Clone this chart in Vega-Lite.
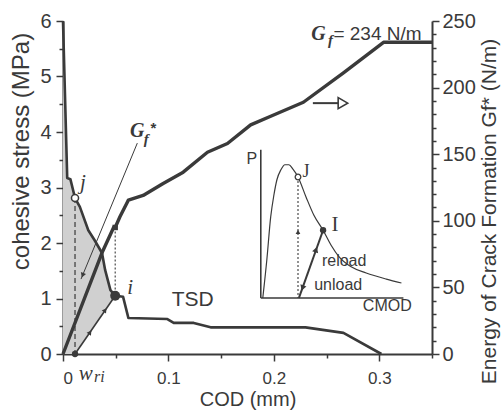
{
  "$schema": "https://vega.github.io/schema/vega-lite/v6.json",
  "width": 369,
  "height": 333,
  "autosize": {"type": "none"},
  "padding": {"left": 63, "top": 21, "right": 69, "bottom": 60},
  "background": "white",
  "config": {
    "view": {"stroke": null},
    "axis": {
      "domainColor": "#3a3a3a", "domainWidth": 2,
      "tickColor": "#3a3a3a", "tickWidth": 1.5,
      "labelColor": "#3a3a3a", "labelFont": "Liberation Sans", "labelFontSize": 18,
      "titleColor": "#3a3a3a", "titleFont": "Liberation Sans", "titleFontSize": 20, "titleFontWeight": "normal",
      "grid": false
    }
  },
  "datasets": {
    "tsd": [
      {"cod": 0, "s": 6.0}, {"cod": 0.004, "s": 3.17}, {"cod": 0.007, "s": 3.15},
      {"cod": 0.0114, "s": 2.81}, {"cod": 0.016, "s": 2.65}, {"cod": 0.024, "s": 2.23},
      {"cod": 0.030, "s": 2.05}, {"cod": 0.037, "s": 1.82}, {"cod": 0.040, "s": 1.51},
      {"cod": 0.045, "s": 1.15}, {"cod": 0.0495, "s": 1.05}, {"cod": 0.057, "s": 1.03},
      {"cod": 0.062, "s": 0.65}, {"cod": 0.099, "s": 0.63}, {"cod": 0.105, "s": 0.56},
      {"cod": 0.124, "s": 0.56}, {"cod": 0.140, "s": 0.48}, {"cod": 0.230, "s": 0.48},
      {"cod": 0.266, "s": 0.38}, {"cod": 0.302, "s": 0}
    ],
    "shade": [
      {"cod": 0, "s": 6.0, "bot": 0}, {"cod": 0.004, "s": 3.17, "bot": 0},
      {"cod": 0.007, "s": 3.15, "bot": 0}, {"cod": 0.0114, "s": 2.81, "bot": 0},
      {"cod": 0.016, "s": 2.65, "bot": 0.13}, {"cod": 0.024, "s": 2.23, "bot": 0.35},
      {"cod": 0.030, "s": 2.05, "bot": 0.51}, {"cod": 0.037, "s": 1.82, "bot": 0.70},
      {"cod": 0.040, "s": 1.51, "bot": 0.79}, {"cod": 0.045, "s": 1.15, "bot": 0.93},
      {"cod": 0.0495, "s": 1.05, "bot": 1.05}
    ],
    "gf": [
      {"cod": 0, "g": 0}, {"cod": 0.037, "g": 76}, {"cod": 0.048, "g": 95},
      {"cod": 0.0495, "g": 95}, {"cod": 0.054, "g": 103}, {"cod": 0.061, "g": 114},
      {"cod": 0.062, "g": 115.5}, {"cod": 0.076, "g": 119}, {"cod": 0.095, "g": 128},
      {"cod": 0.114, "g": 136.5}, {"cod": 0.137, "g": 151.5}, {"cod": 0.156, "g": 158},
      {"cod": 0.178, "g": 172}, {"cod": 0.197, "g": 178.5}, {"cod": 0.228, "g": 189},
      {"cod": 0.266, "g": 211}, {"cod": 0.304, "g": 234}, {"cod": 0.35, "g": 234}
    ],
    "inset": [
      {"cod": 0.1895, "s": 1.01}, {"cod": 0.1933, "s": 1.69}, {"cod": 0.197, "s": 2.47},
      {"cod": 0.200, "s": 2.86}, {"cod": 0.2029, "s": 3.14}, {"cod": 0.2067, "s": 3.32},
      {"cod": 0.2105, "s": 3.41}, {"cod": 0.2143, "s": 3.41}, {"cod": 0.2181, "s": 3.33},
      {"cod": 0.2229, "s": 3.19}, {"cod": 0.2305, "s": 2.83}, {"cod": 0.238, "s": 2.50},
      {"cod": 0.2467, "s": 2.23}, {"cod": 0.2543, "s": 1.96}, {"cod": 0.2619, "s": 1.75},
      {"cod": 0.2733, "s": 1.57}, {"cod": 0.2876, "s": 1.46}, {"cod": 0.3067, "s": 1.35},
      {"cod": 0.321, "s": 1.28}
    ],
    "segs": [
      {"id": "dash_j", "cod": 0.0114, "s": 2.81, "cod2": 0.0114, "s2": 0},
      {"id": "dot_i", "cod": 0.0495, "s": 2.28, "cod2": 0.0495, "s2": 1.05},
      {"id": "reload", "cod": 0.0114, "s": 0, "cod2": 0.0495, "s2": 1.05},
      {"id": "ptr", "cod": 0.0705, "s": 3.80, "cod2": 0.0171, "s2": 1.35},
      {"id": "shaft", "cod": 0.237, "s": 4.52, "cod2": 0.261, "s2": 4.52},
      {"id": "inax", "cod": 0.1876, "s": 3.68, "cod2": 0.1876, "s2": 1.01},
      {"id": "inax", "cod": 0.1876, "s": 1.01, "cod2": 0.3229, "s2": 1.01},
      {"id": "indot", "cod": 0.2229, "s": 3.19, "cod2": 0.2229, "s2": 1.01},
      {"id": "inunload", "cod": 0.2467, "s": 2.23, "cod2": 0.2238, "s2": 1.01}
    ],
    "pts": [
      {"id": "j", "cod": 0.0114, "s": 2.81},
      {"id": "i", "cod": 0.0495, "s": 1.05},
      {"id": "wri", "cod": 0.0114, "s": 0},
      {"id": "J", "cod": 0.2229, "s": 3.19},
      {"id": "I", "cod": 0.2467, "s": 2.23},
      {"id": "arr35", "cod": 0.0257, "s": 0.39},
      {"id": "arr35", "cod": 0.040, "s": 0.79},
      {"id": "ptrhead", "cod": 0.0186, "s": 1.42},
      {"id": "inup", "cod": 0.2229, "s": 2.2},
      {"id": "inup19", "cod": 0.240, "s": 1.88},
      {"id": "indown19", "cod": 0.2272, "s": 1.19},
      {"id": "hollow", "cod": 0.2655, "s": 4.52}
    ],
    "labels": [
      {"grp": "serifit", "t": "j", "cod": 0.019, "s": 3.08},
      {"grp": "serifit", "t": "i", "cod": 0.0638, "s": 1.19},
      {"grp": "serifit", "t": "w", "cod": 0.0215, "s": -0.36},
      {"grp": "serifitsm", "t": "ri", "cod": 0.0345, "s": -0.42},
      {"grp": "tsd", "t": "TSD", "cod": 0.123, "s": 0.97},
      {"grp": "bigG", "t": "G", "cod": 0.0705, "s": 4.02},
      {"grp": "smf", "t": "f", "cod": 0.079, "s": 3.88},
      {"grp": "star", "t": "*", "cod": 0.0857, "s": 4.08},
      {"grp": "bigG", "t": "G", "cod": 0.2424, "s": 5.76},
      {"grp": "smf", "t": "f", "cod": 0.2538, "s": 5.66},
      {"grp": "sansl", "t": "= 234 N/m", "cod": 0.2565, "s": 5.77},
      {"grp": "sans", "t": "P", "cod": 0.179, "s": 3.51},
      {"grp": "serif", "t": "J", "cod": 0.2305, "s": 3.28},
      {"grp": "serifbig", "t": "I", "cod": 0.258, "s": 2.32},
      {"grp": "sans", "t": "reload", "cod": 0.2667, "s": 1.68},
      {"grp": "sans", "t": "unload", "cod": 0.261, "s": 1.24},
      {"grp": "sans", "t": "CMOD", "cod": 0.3076, "s": 0.86}
    ]
  },
  "encoding": {
    "x": {"field": "cod", "type": "quantitative", "scale": {"domain": [0, 0.35], "nice": false},
      "axis": {
        "values": [0, 0.05, 0.1, 0.15, 0.2, 0.25, 0.3, 0.35],
        "labelExpr": "(abs(datum.value*10-round(datum.value*10))<0.001 && datum.value<0.31) ? format(datum.value, '~g') : ''",
        "tickSize": {"condition": {"test": "abs(datum.value*10-round(datum.value*10))<0.001", "value": 7}, "value": 4},
        "labelPadding": 9, "labelFontSize": 17,
        "title": "COD  (mm)", "titleFontSize": 20, "titleBaseline": "middle", "titleY": 45
      }}
  },
  "layer": [
    {
      "encoding": {
        "y": {"field": "s", "type": "quantitative", "scale": {"domain": [0, 6], "nice": false},
          "axis": {
            "values": [0, 0.5, 1, 1.5, 2, 2.5, 3, 3.5, 4, 4.5, 5, 5.5, 6],
            "labelExpr": "abs(datum.value-round(datum.value))<0.001 ? format(datum.value, '~g') : ''",
            "tickSize": {"condition": {"test": "abs(datum.value-round(datum.value))<0.001", "value": 7}, "value": 4},
            "labelFontSize": 20, "labelPadding": 5,
            "title": "cohesive stress  (MPa)", "titleFontSize": 24,
            "titleBaseline": "middle", "titleAngle": 270, "titleX": -42, "titleY": 130
          }}
      },
      "layer": [
        {
          "data": {"name": "shade"},
          "mark": {"type": "area", "color": "#d0d0d0", "opacity": 1},
          "encoding": {"y2": {"field": "bot"}}
        },
        {
          "data": {"name": "tsd"},
          "mark": {"type": "line", "color": "#3a3a3a", "strokeWidth": 2.6, "strokeJoin": "round"}
        },
        {
          "data": {"name": "inset"},
          "mark": {"type": "line", "color": "#3a3a3a", "strokeWidth": 1.2, "interpolate": "monotone"}
        },
        {
          "data": {"name": "segs"},
          "transform": [{"filter": "datum.id === 'dash_j'"}],
          "mark": {"type": "rule", "color": "#3a3a3a", "strokeWidth": 1.2, "strokeDash": [5, 3]},
          "encoding": {"x2": {"field": "cod2"}, "y2": {"field": "s2"}}
        },
        {
          "data": {"name": "segs"},
          "transform": [{"filter": "datum.id === 'dot_i' || datum.id === 'indot'"}],
          "mark": {"type": "rule", "color": "#3a3a3a", "strokeWidth": 1.1, "strokeDash": [2, 2]},
          "encoding": {"x2": {"field": "cod2"}, "y2": {"field": "s2"}}
        },
        {
          "data": {"name": "segs"},
          "transform": [{"filter": "datum.id === 'reload' || datum.id === 'inax'"}],
          "mark": {"type": "rule", "color": "#3a3a3a", "strokeWidth": 1.6},
          "encoding": {"x2": {"field": "cod2"}, "y2": {"field": "s2"}}
        },
        {
          "data": {"name": "segs"},
          "transform": [{"filter": "datum.id === 'ptr'"}],
          "mark": {"type": "rule", "color": "#3a3a3a", "strokeWidth": 1},
          "encoding": {"x2": {"field": "cod2"}, "y2": {"field": "s2"}}
        },
        {
          "data": {"name": "segs"},
          "transform": [{"filter": "datum.id === 'shaft' || datum.id === 'inunload'"}],
          "mark": {"type": "rule", "color": "#3a3a3a", "strokeWidth": 2},
          "encoding": {"x2": {"field": "cod2"}, "y2": {"field": "s2"}}
        },
        {
          "data": {"name": "pts"},
          "transform": [{"filter": "datum.id === 'j'"}],
          "mark": {"type": "point", "shape": "circle", "size": 50, "filled": true, "fill": "white", "stroke": "#3a3a3a", "strokeWidth": 1.5, "opacity": 1}
        },
        {
          "data": {"name": "pts"},
          "transform": [{"filter": "datum.id === 'J'"}],
          "mark": {"type": "point", "shape": "circle", "size": 32, "filled": true, "fill": "white", "stroke": "#3a3a3a", "strokeWidth": 1.3, "opacity": 1}
        },
        {
          "data": {"name": "pts"},
          "transform": [{"filter": "datum.id === 'i'"}],
          "mark": {"type": "point", "shape": "circle", "size": 100, "filled": true, "color": "#3a3a3a", "opacity": 1}
        },
        {
          "data": {"name": "pts"},
          "transform": [{"filter": "datum.id === 'wri' || datum.id === 'I'"}],
          "mark": {"type": "point", "shape": "circle", "size": 40, "filled": true, "color": "#3a3a3a", "opacity": 1}
        },
        {
          "data": {"name": "pts"},
          "transform": [{"filter": "datum.id === 'arr35'"}],
          "mark": {"type": "point", "shape": "triangle-up", "angle": 35, "size": 28, "filled": true, "color": "#3a3a3a", "opacity": 1}
        },
        {
          "data": {"name": "pts"},
          "transform": [{"filter": "datum.id === 'ptrhead'"}],
          "mark": {"type": "point", "shape": "triangle-down", "angle": 21, "size": 30, "filled": true, "color": "#3a3a3a", "opacity": 1}
        },
        {
          "data": {"name": "pts"},
          "transform": [{"filter": "datum.id === 'inup'"}],
          "mark": {"type": "point", "shape": "triangle-up", "size": 22, "filled": true, "color": "#3a3a3a", "opacity": 1}
        },
        {
          "data": {"name": "pts"},
          "transform": [{"filter": "datum.id === 'inup19'"}],
          "mark": {"type": "point", "shape": "triangle-up", "angle": 19, "size": 40, "filled": true, "color": "#3a3a3a", "opacity": 1}
        },
        {
          "data": {"name": "pts"},
          "transform": [{"filter": "datum.id === 'indown19'"}],
          "mark": {"type": "point", "shape": "triangle-down", "angle": 19, "size": 40, "filled": true, "color": "#3a3a3a", "opacity": 1}
        },
        {
          "data": {"name": "pts"},
          "transform": [{"filter": "datum.id === 'hollow'"}],
          "mark": {"type": "point", "shape": "triangle-right", "size": 120, "filled": true, "fill": "white", "stroke": "#3a3a3a", "strokeWidth": 1.6, "opacity": 1}
        },
        {
          "data": {"name": "labels"},
          "transform": [{"filter": "datum.grp === 'serifit'"}],
          "mark": {"type": "text", "font": "Liberation Serif", "fontStyle": "italic", "fontSize": 21, "color": "#3a3a3a"},
          "encoding": {"text": {"field": "t"}}
        },
        {
          "data": {"name": "labels"},
          "transform": [{"filter": "datum.grp === 'serifitsm'"}],
          "mark": {"type": "text", "font": "Liberation Serif", "fontStyle": "italic", "fontSize": 16, "color": "#3a3a3a"},
          "encoding": {"text": {"field": "t"}}
        },
        {
          "data": {"name": "labels"},
          "transform": [{"filter": "datum.grp === 'bigG'"}],
          "mark": {"type": "text", "font": "Liberation Serif", "fontStyle": "italic", "fontWeight": "bold", "fontSize": 20, "color": "#3a3a3a"},
          "encoding": {"text": {"field": "t"}}
        },
        {
          "data": {"name": "labels"},
          "transform": [{"filter": "datum.grp === 'smf'"}],
          "mark": {"type": "text", "font": "Liberation Serif", "fontStyle": "italic", "fontWeight": "bold", "fontSize": 15, "color": "#3a3a3a"},
          "encoding": {"text": {"field": "t"}}
        },
        {
          "data": {"name": "labels"},
          "transform": [{"filter": "datum.grp === 'star'"}],
          "mark": {"type": "text", "font": "Liberation Sans", "fontWeight": "bold", "fontSize": 15, "color": "#3a3a3a"},
          "encoding": {"text": {"field": "t"}}
        },
        {
          "data": {"name": "labels"},
          "transform": [{"filter": "datum.grp === 'tsd'"}],
          "mark": {"type": "text", "font": "Liberation Sans", "fontSize": 21, "color": "#3a3a3a"},
          "encoding": {"text": {"field": "t"}}
        },
        {
          "data": {"name": "labels"},
          "transform": [{"filter": "datum.grp === 'sans'"}],
          "mark": {"type": "text", "font": "Liberation Sans", "fontSize": 16, "color": "#3a3a3a"},
          "encoding": {"text": {"field": "t"}}
        },
        {
          "data": {"name": "labels"},
          "transform": [{"filter": "datum.grp === 'sansl'"}],
          "mark": {"type": "text", "font": "Liberation Sans", "fontSize": 19, "align": "left", "color": "#3a3a3a"},
          "encoding": {"text": {"field": "t"}}
        },
        {
          "data": {"name": "labels"},
          "transform": [{"filter": "datum.grp === 'serif'"}],
          "mark": {"type": "text", "font": "Liberation Serif", "fontSize": 18, "color": "#3a3a3a"},
          "encoding": {"text": {"field": "t"}}
        },
        {
          "data": {"name": "labels"},
          "transform": [{"filter": "datum.grp === 'serifbig'"}],
          "mark": {"type": "text", "font": "Liberation Serif", "fontSize": 21, "color": "#3a3a3a"},
          "encoding": {"text": {"field": "t"}}
        }
      ]
    },
    {
      "encoding": {
        "y": {"field": "g", "type": "quantitative", "scale": {"domain": [0, 250], "nice": false},
          "axis": {
            "orient": "right",
            "values": [0, 10, 20, 30, 40, 50, 60, 70, 80, 90, 100, 110, 120, 130, 140, 150, 160, 170, 180, 190, 200, 210, 220, 230, 240, 250],
            "labelExpr": "datum.value % 50 === 0 ? format(datum.value, '~g') : ''",
            "tickSize": {"condition": {"test": "datum.value % 50 === 0", "value": 7}, "value": 4},
            "labelFontSize": 20, "labelPadding": 3,
            "title": "Energy  of  Crack  Formation  Gf*  (N/m)", "titleFontSize": 21,
            "titleAngle": 270, "titleBaseline": "middle", "titleX": 57, "titleY": 190
          }}
      },
      "layer": [
        {
          "data": {"name": "gf"},
          "mark": {"type": "line", "color": "#3a3a3a", "strokeWidth": 3.4, "strokeJoin": "round"}
        },
        {
          "data": {"values": [{"cod": 0.0495, "g": 95}]},
          "mark": {"type": "point", "shape": "square", "size": 30, "filled": true, "color": "#3a3a3a", "opacity": 1}
        }
      ]
    }
  ],
  "resolve": {"scale": {"y": "independent"}}
}
